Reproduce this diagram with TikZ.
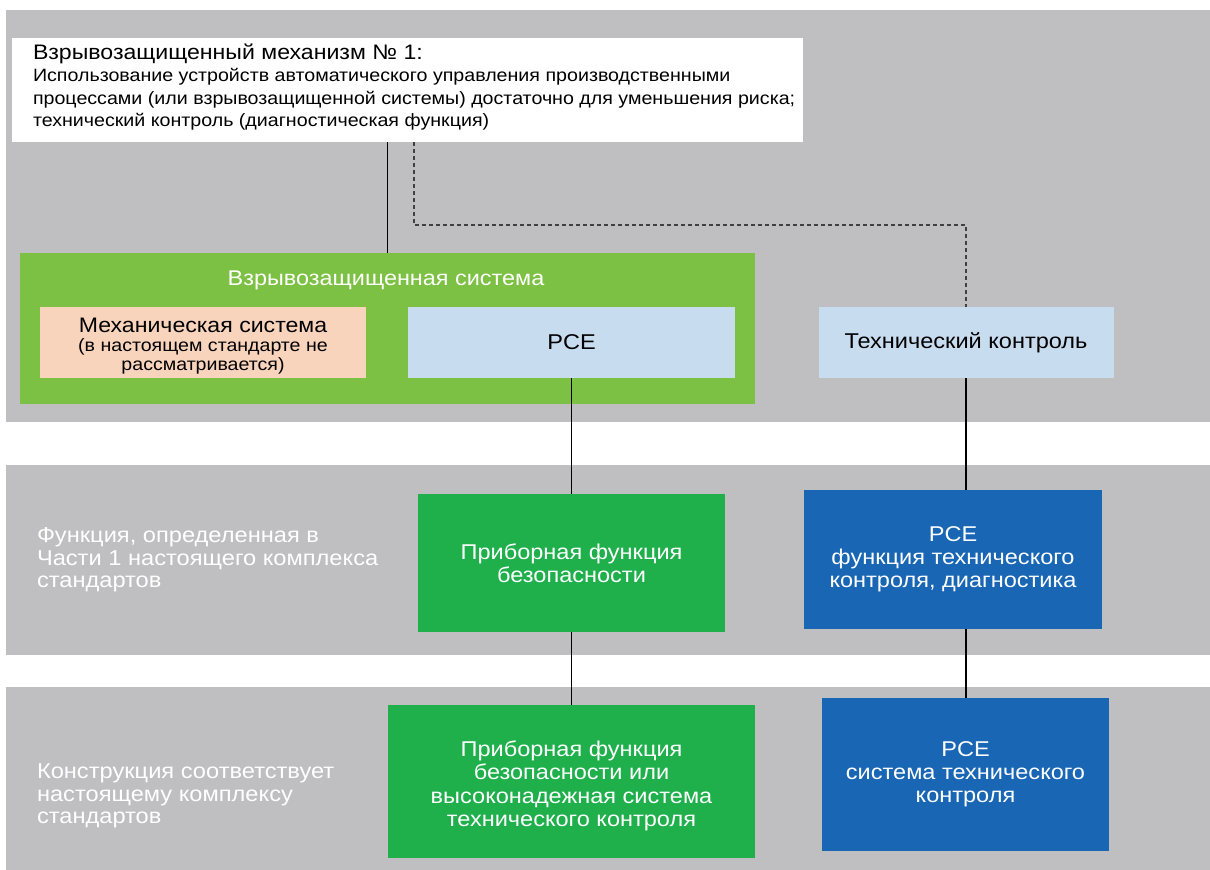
\documentclass[tikz,border=0pt]{standalone}
\usepackage{fontspec}
\setmainfont[FakeStretch=1.1]{Liberation Sans}
\definecolor{bandgray}{RGB}{191,190,192}
\definecolor{lgreen}{RGB}{124,193,67}
\definecolor{peach}{RGB}{249,212,189}
\definecolor{lblue}{RGB}{200,220,240}
\definecolor{dgreen}{RGB}{31,176,76}
\definecolor{dblue}{RGB}{24,102,180}
\begin{document}
\begin{tikzpicture}[x=1pt,y=-1pt,
  every node/.style={inner sep=0pt, outer sep=0pt},
  boxA/.style={draw=none, align=center},
  lightbox/.style={boxA, fill=lblue, text=black, font=\fontsize{21.4}{23}\selectfont},
  greenbox/.style={boxA, fill=dgreen, text=white, font=\fontsize{21.4}{23.5}\selectfont},
  bluebox/.style={boxA, fill=dblue, text=white, font=\fontsize{21.4}{23}\selectfont},
  bandlabel/.style={text=white, align=left, anchor=west, font=\fontsize{21.5}{22.7}\selectfont},
  link/.style={draw=black, line width=1.2pt},
  dlink/.style={draw=black!75, line width=1.2pt, dash pattern=on 4pt off 3pt}]
\useasboundingbox (0,0) rectangle (1210,870);
\fill[white] (0,0) rectangle (1210,870);
% bands
\fill[bandgray] (6,10) rectangle (1210,422);
\fill[bandgray] (6,465) rectangle (1210,655);
\fill[bandgray] (6,687) rectangle (1210,870);
% top box
\node[fill=white, minimum width=791pt, minimum height=104pt] (top) at (407.5,90) {};
\node[align=left, anchor=west, font=\fontsize{17.85}{22.5}\selectfont] (toptext) at (33,87)
 {{\fontsize{21}{26}\selectfont Взрывозащищенный механизм № 1:}\\
  Использование устройств автоматического управления производственными\\
  процессами (или взрывозащищенной системы) достаточно для уменьшения риска;\\
  технический контроль (диагностическая функция)};
% explosion-proof system
\node[fill=lgreen, minimum width=735pt, minimum height=151pt] (gsys) at (387.5,328.5) {};
\node[text=white, font=\fontsize{21.3}{24}\selectfont] (gtitle) at (386,280) {Взрывозащищенная система};
\node[boxA, fill=peach, minimum width=326pt, minimum height=71pt] (mech) at (203,342.5) {};
\node[align=center, font=\fontsize{17.8}{19}\selectfont] (mechtext) at (203,346)
 {{\fontsize{21}{21}\selectfont Механическая система}\\
  (в настоящем стандарте не\\ рассматривается)};
\node[lightbox, minimum width=327pt, minimum height=71pt] (pce) at (571.5,342.5) {PCE};
\node[lightbox, minimum width=295pt, minimum height=71pt] (tech) at (966,342.5) {Технический контроль};
% second row
\node[greenbox, minimum width=307pt, minimum height=138pt] (sif) at (571.5,563)
 {Приборная функция\\безопасности};
\node[bluebox, minimum width=298pt, minimum height=139pt] (diag) at (953,559.5)
 {PCE\\функция технического\\контроля, диагностика};
\node[bandlabel] (lab2) at (37,560)
 {Функция, определенная в\\Части 1 настоящего комплекса\\стандартов};
% third row
\node[greenbox, minimum width=367pt, minimum height=153pt] (sif2) at (571.5,781.5) {};
\node[align=center, text=white, font=\fontsize{21.4}{23.5}\selectfont] (sif2text) at (571.5,786)
 {Приборная функция\\безопасности или\\высоконадежная система\\технического контроля};
\node[bluebox, minimum width=287pt, minimum height=153pt] (sys) at (965.5,774.5)
 {PCE\\система технического\\контроля};
\node[bandlabel] (lab3) at (37,796)
 {Конструкция соответствует\\настоящему комплексу\\стандартов};
% connectors
\draw[link] (gsys.north |- top.south) -- (gsys.north);
\coordinate (dstart) at (414,142);
\coordinate (dbend) at (414,225);
\draw[dlink] (dstart) -- (dbend) -| (tech.north);
\draw[link] (pce.south) -- (sif.north);
\draw[link] (sif.south) -- (sif2.north);
\draw[link] (tech.south) -- (tech.south |- diag.north);
\draw[link] (tech.south |- diag.south) -- (tech.south |- sys.north);
\end{tikzpicture}
\end{document}
